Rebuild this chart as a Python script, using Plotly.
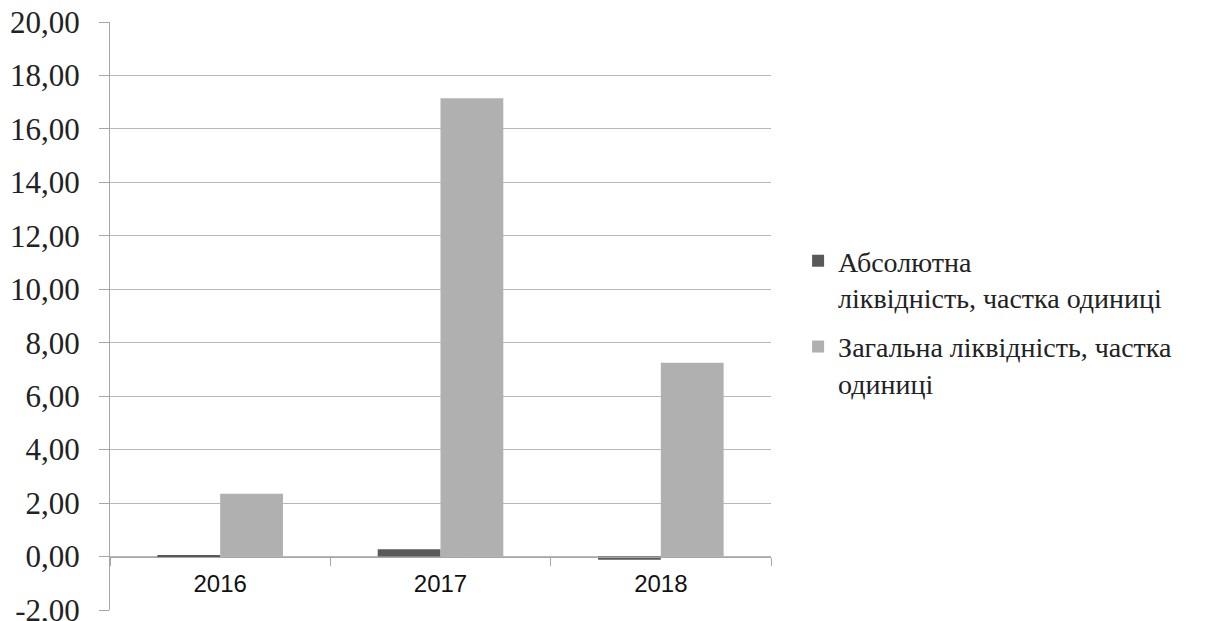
import plotly.graph_objects as go

years = ["2016", "2017", "2018"]
absolute_liq = [0.05, 0.27, -0.12]
total_liq = [2.35, 17.15, 7.25]
series_names = ["Абсолютна<br>ліквідність, частка одиниці",
                "Загальна ліквідність, частка<br>одиниці"]
y_ticks = [-2, 0, 2, 4, 6, 8, 10, 12, 14, 16, 18, 20]
y_tick_labels = ["-2,00", "0,00", "2,00", "4,00", "6,00", "8,00", "10,00",
                 "12,00", "14,00", "16,00", "18,00", "20,00"]

fig = go.Figure()
fig.add_trace(go.Bar(x=years, y=absolute_liq, name=series_names[0], legendgroup="a",
                     marker=dict(color="#595959", line=dict(width=0))))
fig.add_trace(go.Bar(x=years, y=total_liq, name=series_names[1], legendgroup="b",
                     marker=dict(color="#b0b0b0", line=dict(width=0))))

fig.update_layout(
    width=1221, height=613,
    paper_bgcolor="white", plot_bgcolor="white",
    margin=dict(l=102, r=458, t=14, b=11, autoexpand=False),
    barmode="group", bargap=0.43, bargroupgap=0,
    showlegend=True,
    legend=dict(x=1.041, y=0.636, xanchor="left", yanchor="top", valign="top",
                font=dict(family="Liberation Serif", size=28, color="#222222"),
                traceorder="grouped", tracegroupgap=10,
                bgcolor="rgba(0,0,0,0)"),
    xaxis=dict(
        type="category", anchor="free", position=2/22, automargin=False,
        showline=True, linecolor="#a6a6a6", linewidth=1,
        ticks="outside", tickson="boundaries", ticklen=8, tickcolor="#a6a6a6",
        ticklabelstandoff=6,
        tickfont=dict(family="Liberation Sans", size=24, color="#111111"),
        showgrid=False, zeroline=False,
    ),
    yaxis=dict(
        range=[-2, 20], tickvals=y_ticks, ticktext=y_tick_labels,
        ticklabeloverflow="allow", automargin=False,
        showline=True, linecolor="#a6a6a6", linewidth=1,
        ticks="outside", ticklen=10, tickcolor="#a6a6a6", ticklabelstandoff=13,
        showgrid=True, gridcolor="#b8b8b8", gridwidth=1,
        zeroline=False,
        tickfont=dict(family="Liberation Serif", size=31, color="#222222"),
    ),
)

fig.write_html("out.html")
